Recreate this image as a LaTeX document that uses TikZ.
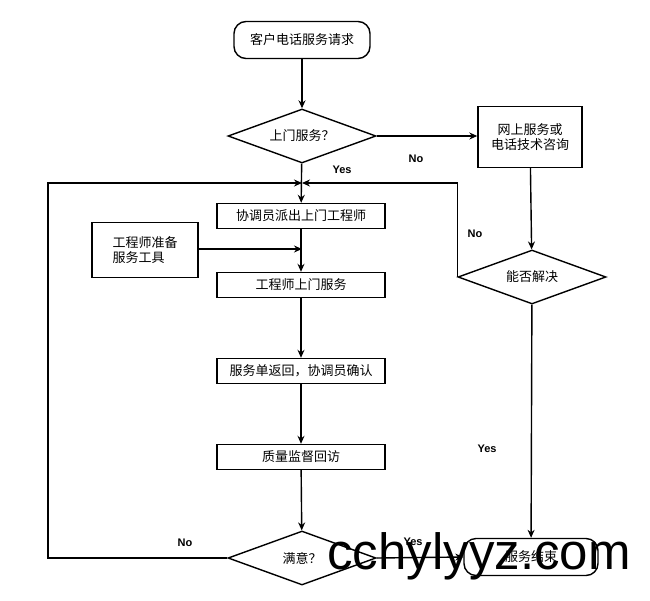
\documentclass[tikz,border=0pt]{standalone}
\usepackage{fontspec}
\setmainfont{Liberation Sans}
\newfontfamily\cjk{Noto Sans CJK SC}
\usetikzlibrary{shapes.geometric,arrows.meta}
\tikzset{
  box/.style={draw, line width=1.4pt, minimum height=25pt, inner sep=2pt, font=\cjk\fontsize{13}{15}\selectfont},
  term/.style={box, rounded corners=12pt, minimum height=37pt},
  decide/.style={draw, line width=1.4pt, diamond, aspect=2.74, minimum width=148pt, minimum height=54pt, inner sep=0pt, font=\cjk\fontsize{13}{15}\selectfont},
  flow/.style={line width=1.4pt, -{Stealth[length=8pt,width=7pt]}},
  lbl/.style={font=\bfseries\fontsize{11}{13}\selectfont}
}
\begin{document}
\begin{tikzpicture}[x=1pt,y=-1pt]
    \useasboundingbox (0,0) rectangle (650,600);
    % Nodos
    \node[term, minimum width=136pt] (start) at (302,40) {客户电话服务请求};
    \node[decide] (onsite) at (302,136) {上门服务？};
    \node[box, minimum width=104pt, minimum height=61pt, align=center] (online) at (530,137) {网上服务或\\电话技术咨询};
    \node[decide] (solved) at (532,277) {能否解决};
    \node[box, minimum width=168pt] (dispatch) at (301,216) {协调员派出上门工程师};
    \node[box, minimum width=106pt, minimum height=55pt, align=left] (tools) at (145,250) {工程师准备\\服务工具};
    \node[box, minimum width=168pt] (visit) at (301,285) {工程师上门服务};
    \node[box, minimum width=168pt] (confirm) at (301,371) {服务单返回，协调员确认};
    \node[box, minimum width=168pt] (review) at (301,457) {质量监督回访};
    \node[decide] (happy) at (302,558) {满意？};
    \node[term, minimum width=134pt] (done) at (531,557) {服务结束};
    \coordinate (merge) at (302,183);
    % Conectores
    \draw[flow] (start) -- (onsite);
    \draw[flow] (onsite.east) -- (online.west |- onsite.east);
    \draw[flow] (onsite) -- (dispatch);
    \draw[flow] (online) -- (solved);
    \draw[flow] (solved.west) |- (merge);
    \draw[flow] (happy.west) -- (48,558) |- (merge);
    \draw[flow] (tools.east |- 0,249) -- (302,249);
    \draw[flow] (dispatch) -- (visit);
    \draw[flow] (visit) -- (confirm);
    \draw[flow] (confirm) -- (review);
    \draw[flow] (review) -- (happy);
    \draw[flow] (solved) -- (done);
    \draw[flow] (happy.east) -- (done.west);
    % Etiquetas
    \node[lbl] at (342,170) {Yes};
    \node[lbl] at (416,159) {No};
    \node[lbl] at (475,234) {No};
    \node[lbl] at (487,449) {Yes};
    \node[lbl] at (185,543) {No};
    \node[lbl] at (413,542) {Yes};
    \node[font=\fontsize{51}{54}\selectfont] at (479,556) {cchylyyz.com};
\end{tikzpicture}
\end{document}
